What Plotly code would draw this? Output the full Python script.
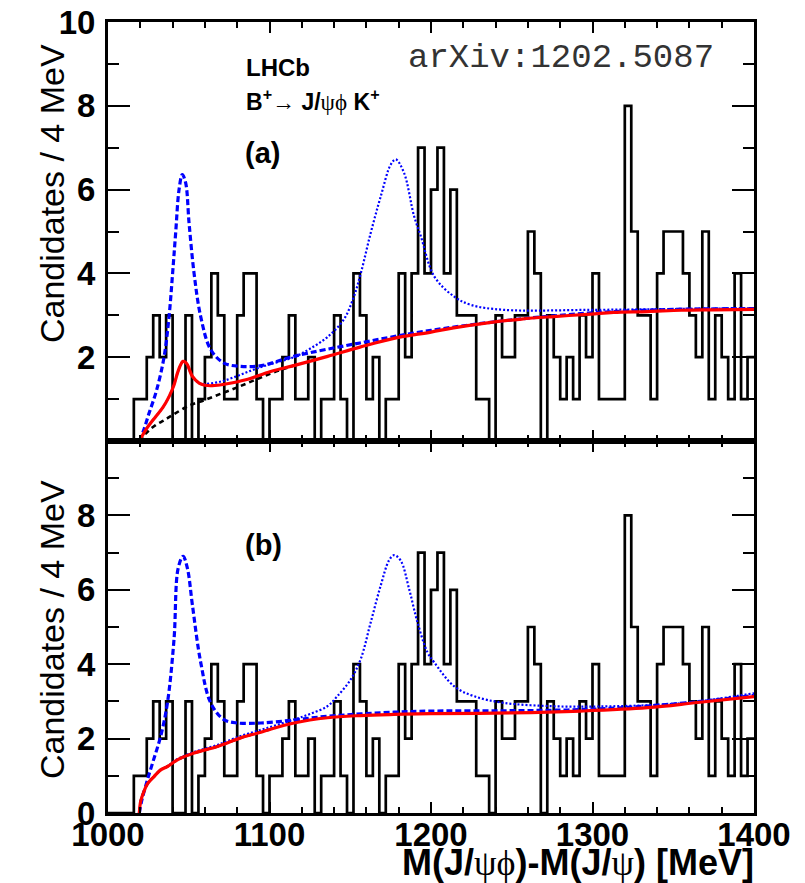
import numpy as np
import plotly.graph_objects as go

# ---------------- data ----------------
bin_lo = 1000.0
bin_width = 4.0
counts = [0, 0, 0, 0, 1, 1, 2, 3, 2, 3,
          0, 0, 3, 0, 1, 2, 4, 3, 1, 1,
          3, 4, 4, 1, 0, 1, 1, 2, 3, 1,
          1, 2, 0, 1, 1, 3, 1, 0, 4, 3,
          1, 2, 0, 1, 1, 4, 2, 4, 7, 4,
          6, 7, 4, 6, 3, 3, 3, 1, 1, 0,
          3, 2, 2, 3, 3, 5, 4, 0, 3, 2,
          1, 2, 1, 3, 2, 4, 1, 1, 1, 1,
          8, 5, 3, 3, 1, 4, 5, 5, 5, 4,
          3, 2, 5, 1, 3, 2, 1, 4, 1, 2]

# panel (a) curves
bkg_a_x = [1019.4, 1022, 1025, 1029.5, 1035, 1040, 1050, 1060, 1070, 1080, 1090, 1100, 1115]
bkg_a_y = [0.0, 0.12, 0.24, 0.38, 0.5, 0.62, 0.84, 0.98, 1.13, 1.28, 1.44, 1.6, 1.8]

red_a_x = [1019.4, 1024, 1029.5, 1034, 1037.8, 1041, 1043, 1045, 1046.4, 1048, 1049.2, 1052.3,
           1056.4, 1060, 1064.6, 1072.9, 1085.3, 1100.7, 1115, 1136, 1156, 1177, 1200, 1214,
           1235, 1256, 1276, 1299, 1313, 1334, 1355, 1375, 1400]
red_a_y = [0.0, 0.3, 0.58, 0.8, 1.06, 1.35, 1.62, 1.82, 1.9, 1.88, 1.82, 1.54,
           1.38, 1.33, 1.32, 1.36, 1.46, 1.66, 1.8, 2.02, 2.24, 2.45, 2.6, 2.7,
           2.82, 2.91, 2.97, 3.03, 3.07, 3.09, 3.12, 3.13, 3.14]

dash_a_x = [1019.4, 1022, 1025.4, 1030, 1034.7, 1037.8, 1040, 1041.9, 1044, 1046, 1048.1, 1050.2,
            1053.3, 1057.4, 1063.6, 1071.8, 1082, 1095, 1115, 1156, 1200, 1250, 1300, 1350, 1400]
dash_a_y = [0.0, 0.25, 0.66, 1.2, 2.0, 2.97, 4.0, 4.97, 6.0, 6.36, 6.16, 5.2,
            4.0, 2.97, 2.18, 1.86, 1.78, 1.8, 2.02, 2.34, 2.64, 2.89, 3.06, 3.14, 3.16]

dot_a_x = [1019.4, 1024, 1029.5, 1034, 1037.8, 1041, 1043, 1045, 1046.4, 1048, 1052.3, 1056.4,
           1060, 1070, 1080, 1090, 1100, 1115, 1125, 1135.8, 1146, 1152.3, 1156.5, 1162.7,
           1168.9, 1175.1, 1178.2, 1183.3, 1189.5, 1193.6, 1202, 1214.2, 1224.6, 1245.2,
           1299, 1350, 1400]
dot_a_y = [0.0, 0.3, 0.58, 0.8, 1.06, 1.35, 1.62, 1.82, 1.9, 1.88, 1.54, 1.38,
           1.36, 1.42, 1.55, 1.7, 1.83, 2.0, 2.2, 2.48, 2.9, 3.45, 4.0, 4.97,
           5.84, 6.6, 6.72, 6.4, 5.37, 4.9, 3.93, 3.45, 3.25, 3.13,
           3.13, 3.15, 3.17]

# panel (b) curves
red_b_x = [1019.4, 1020.2, 1022, 1024.4, 1028.5, 1032.6, 1036.8, 1043, 1053.3, 1067.7, 1082.2,
           1094.6, 1099.7, 1115.2, 1135.8, 1156.5, 1177.1, 1199.8, 1250, 1292.6, 1334, 1365, 1400]
red_b_y = [0.0, 0.31, 0.55, 0.78, 0.98, 1.16, 1.25, 1.43, 1.61, 1.79, 2.02,
           2.17, 2.24, 2.42, 2.56, 2.62, 2.65, 2.67, 2.69, 2.74, 2.83, 2.97, 3.13]

bkg_b_x = [1019.4, 1020.2, 1022, 1024.4, 1028.5, 1032.6, 1036.8, 1043, 1053.3, 1067.7, 1082.2, 1099.7]
bkg_b_y = [0.0, 0.31, 0.55, 0.78, 0.98, 1.16, 1.25, 1.43, 1.61, 1.79, 2.02, 2.24]

dash_b_x = [1019.4, 1021, 1024.4, 1028, 1032.6, 1036.8, 1040.9, 1043.4, 1046.5, 1049.2, 1052.3,
            1057.4, 1063.6, 1071.8, 1080.1, 1094.6, 1115, 1135.8, 1177.1, 1199.8, 1250, 1300,
            1350, 1400]
dash_b_y = [0.0, 0.35, 0.89, 1.4, 2.06, 2.96, 4.68, 6.57, 6.9, 6.57, 5.58,
            4.05, 2.96, 2.51, 2.42, 2.42, 2.5, 2.6, 2.71, 2.74, 2.75, 2.79,
            2.93, 3.16]

dot_b_x = [1019.4, 1020.2, 1022, 1024.4, 1028.5, 1032.6, 1036.8, 1043, 1053.3, 1067.7, 1082.2,
           1099.7, 1115, 1125, 1135.8, 1142, 1150.3, 1156.5, 1162.7, 1168.9, 1174, 1177.1,
           1181.2, 1186.4, 1191.6, 1197.8, 1202, 1214.2, 1226.6, 1245.2, 1276.2, 1298.9,
           1354.6, 1400]
dot_b_y = [0.0, 0.31, 0.55, 0.78, 0.98, 1.16, 1.26, 1.45, 1.64, 1.83, 2.07,
           2.3, 2.51, 2.66, 2.87, 3.14, 3.59, 4.14, 5.13, 6.12, 6.79, 6.93,
           6.79, 6.03, 5.13, 4.32, 4.05, 3.41, 3.14, 2.96, 2.87, 2.86,
           2.95, 3.22]

x_major = [1000, 1100, 1200, 1300, 1400]
x_major_text = ["1000", "1100", "1200", "1300", "1400"]
y_major_top = [2, 4, 6, 8, 10]
y_text_top = ["2", "4", "6", "8", "10"]
y_major_bot = [0, 2, 4, 6, 8]
y_text_bot = ["0", "2", "4", "6", "8"]

# ---------------- figure ----------------
W, H = 805, 883
x0p, x1p = 108 / W, 754 / W
top_dom = [1 - 441 / H, 1 - 22 / H]
bot_dom = [1 - 813 / H, 1 - 441 / H]

edges = bin_lo + bin_width * np.arange(len(counts) + 1)
hx = list(edges)
hy = list(counts) + [counts[-1]]

fig = go.Figure()

def add_panel(xa, ya, bkg, dsh, dot, red):
    fig.add_trace(go.Scatter(x=hx, y=hy, mode="lines", line=dict(color="black", width=2.7, shape="hv"),
                             xaxis=xa, yaxis=ya, hoverinfo="skip", showlegend=False))
    fig.add_trace(go.Scatter(x=bkg[0], y=bkg[1], mode="lines",
                             line=dict(color="black", width=2.6, dash="5px,4px", shape="spline"),
                             xaxis=xa, yaxis=ya, showlegend=False))
    fig.add_trace(go.Scatter(x=dsh[0], y=dsh[1], mode="lines",
                             line=dict(color="#0000ff", width=3.2, dash="6px,3px", shape="spline"),
                             xaxis=xa, yaxis=ya, showlegend=False))
    fig.add_trace(go.Scatter(x=dot[0], y=dot[1], mode="lines",
                             line=dict(color="#0000ff", width=2.2, dash="2px,2px", shape="spline"),
                             xaxis=xa, yaxis=ya, showlegend=False))
    fig.add_trace(go.Scatter(x=red[0], y=red[1], mode="lines",
                             line=dict(color="#ff0000", width=3.2, shape="spline"),
                             xaxis=xa, yaxis=ya, showlegend=False))

add_panel("x", "y", (bkg_a_x, bkg_a_y), (dash_a_x, dash_a_y), (dot_a_x, dot_a_y), (red_a_x, red_a_y))
add_panel("x2", "y2", (bkg_b_x, bkg_b_y), (dash_b_x, dash_b_y), (dot_b_x, dot_b_y), (red_b_x, red_b_y))

SANS = "Liberation Sans, Arial, Helvetica"
tick_font = dict(family=SANS, size=33, color="black", weight="bold")

def xaxis(dom_anchor, show_labels):
    return dict(domain=[x0p, x1p], anchor=dom_anchor, range=[1000, 1400], automargin=False,
                showline=True, linewidth=3, linecolor="black", mirror="allticks",
                ticks="inside", ticklen=11, tickwidth=2, tickcolor="black",
                tickvals=x_major, ticktext=x_major_text, showticklabels=show_labels,
                tickfont=tick_font, ticklabelstandoff=-10, showgrid=False, zeroline=False,
                minor=dict(ticks="inside", ticklen=6, tickwidth=2, tickcolor="black", dtick=20,
                           tick0=1000, showgrid=False))

def yaxis(dom, anchor, vals, text):
    return dict(domain=dom, anchor=anchor, range=[0, 10], automargin=False,
                showline=True, linewidth=3, linecolor="black", mirror="allticks",
                ticks="inside", ticklen=22, tickwidth=2, tickcolor="black",
                tickvals=vals, ticktext=text, tickfont=tick_font, ticklabelstandoff=3,
                showgrid=False, zeroline=False,
                minor=dict(ticks="inside", ticklen=11, tickwidth=2, tickcolor="black", dtick=1,
                           tick0=0, showgrid=False))

fig.update_layout(
    width=W, height=H, margin=dict(l=0, r=0, t=0, b=0, autoexpand=False),
    paper_bgcolor="white", plot_bgcolor="white",
    xaxis=xaxis("y", False), yaxis=yaxis(top_dom, "x", y_major_top, y_text_top),
    xaxis2=xaxis("y2", True), yaxis2=yaxis(bot_dom, "x2", y_major_bot, y_text_bot),
    showlegend=False,
)

def px(x, y):
    return x / W, 1 - y / H

annos = []
def text(x, y, s, size, family=SANS, xanchor="left", yanchor="middle", angle=0, color="black"):
    ax, ay = px(x, y)
    annos.append(dict(x=ax, y=ay, xref="paper", yref="paper", text=s, showarrow=False,
                      xanchor=xanchor, yanchor=yanchor, textangle=angle,
                      font=dict(family=family, size=size, color=color)))

sym = '<span style="font-family:Liberation Serif;font-weight:normal">'
text(244, 67, "<b>LHCb</b>", 24)
text(244, 100, "<b>B<sup>+</sup>\u2192 J/</b>" + sym + "\u03c8\u03d5</span><b> K<sup>+</sup></b>", 23)
text(243, 153, "<b>(a)</b>", 29)
text(243, 545, "<b>(b)</b>", 29)
text(406, 58, "arXiv:1202.5087", 34, family="Liberation Mono", color="#333333")
text(52, 194, "Candidates / 4 MeV", 34, family=SANS, xanchor="center", angle=-90)
text(52, 630, "Candidates / 4 MeV", 34, family=SANS, xanchor="center", angle=-90)
text(756, 862, "<b>M(J/</b>" + sym + "\u03c8\u03d5</span><b>)-M(J/</b>" + sym + "\u03c8</span><b>) [MeV]</b>",
     36, xanchor="right")
fig.update_layout(annotations=annos)

fig.write_html("out.html")
